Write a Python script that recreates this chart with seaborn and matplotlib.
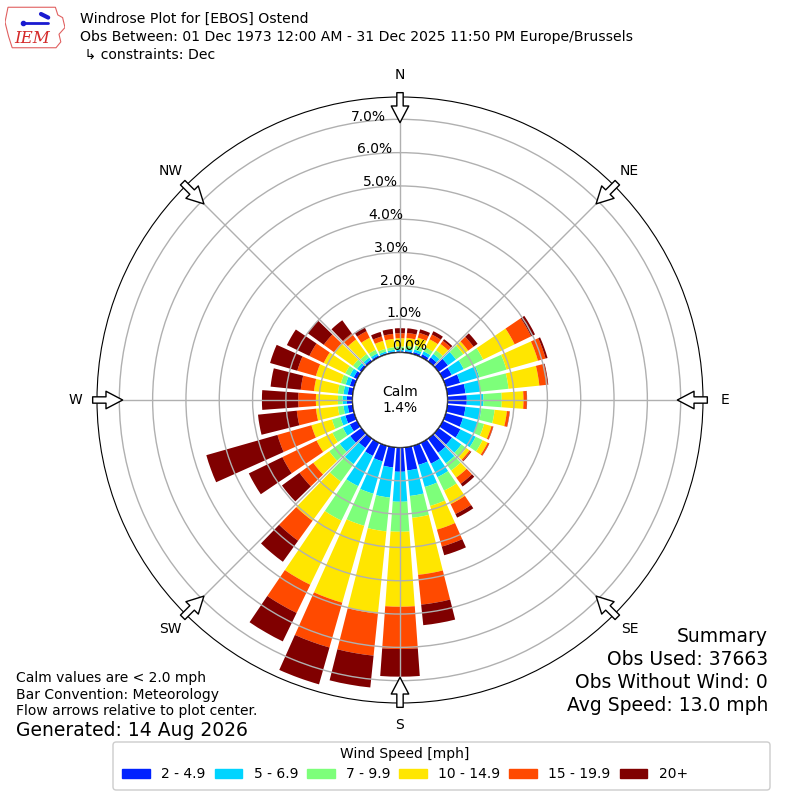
import numpy as np
import pandas as pd
import matplotlib
matplotlib.use('Agg')
import matplotlib.pyplot as plt
import seaborn as sns
from matplotlib.patches import Patch, Circle, FancyBboxPatch, Polygon

# --- DATA (percent of obs, per direction bin) ---
directions = np.arange(0, 360, 10)
speed_labels = ['2 - 4.9', '5 - 6.9', '7 - 9.9', '10 - 14.9', '15 - 19.9', '20+']
speed_2_5 = [0.04, 0.05, 0.07, 0.10, 0.15, 0.35, 0.30, 0.45, 0.55, 0.58, 0.55, 0.54,
             0.59, 0.50, 0.53, 0.70, 0.60, 0.70, 0.73, 0.61, 0.49, 0.44, 0.35, 0.42,
             0.25, 0.28, 0.15, 0.17, 0.15, 0.14, 0.12, 0.08, 0.07, 0.06, 0.04, 0.04]
speed_5_7 = [0.05, 0.06, 0.08, 0.10, 0.13, 0.30, 0.40, 0.60, 0.45, 0.50, 0.48, 0.46,
             0.51, 0.35, 0.39, 0.45, 0.69, 0.77, 0.90, 0.91, 1.01, 1.01, 0.60, 0.39,
             0.23, 0.16, 0.13, 0.13, 0.13, 0.13, 0.13, 0.09, 0.08, 0.07, 0.05, 0.05]
speed_7_10 = [0.09, 0.10, 0.12, 0.13, 0.14, 0.27, 0.65, 0.85, 0.85, 0.55, 0.40, 0.20,
              0.23, 0.18, 0.27, 0.45, 0.59, 0.66, 0.90, 1.02, 1.00, 1.15, 0.65, 0.39,
              0.35, 0.26, 0.17, 0.14, 0.17, 0.15, 0.15, 0.15, 0.13, 0.12, 0.08, 0.08]
speed_10_15 = [0.25, 0.24, 0.25, 0.27, 0.23, 0.18, 1.05, 0.98, 0.93, 0.65, 0.37, 0.23,
               0.17, 0.12, 0.26, 0.45, 0.74, 1.72, 2.25, 2.48, 2.40, 2.14, 1.45, 0.59,
               0.53, 0.64, 0.66, 0.66, 0.72, 0.78, 0.72, 0.70, 0.54, 0.40, 0.25, 0.25]
speed_15_20 = [0.15, 0.15, 0.15, 0.16, 0.12, 0.20, 0.55, 0.24, 0.25, 0.10, 0.08, 0.05,
               0.05, 0.05, 0.23, 0.33, 0.53, 0.90, 1.27, 1.27, 1.40, 0.94, 0.74, 0.51,
               1.14, 1.06, 0.58, 0.53, 0.40, 0.58, 0.48, 0.38, 0.22, 0.22, 0.14, 0.15]
speed_20 = [0.15, 0.14, 0.11, 0.11, 0.06, 0.15, 0.13, 0.06, 0.02, 0.01, 0.01, 0.01,
            0.01, 0.02, 0.10, 0.12, 0.27, 0.62, 0.83, 0.96, 1.15, 0.95, 0.78, 0.65,
            1.12, 2.22, 1.17, 1.09, 0.91, 0.85, 0.75, 0.60, 0.49, 0.14, 0.14, 0.15]
calm_pct = 1.4
ring_ticks = [0, 1, 2, 3, 4, 5, 6, 7]
compass = ['N', 'NE', 'E', 'SE', 'S', 'SW', 'W', 'NW']

df = pd.DataFrame(dict(zip(speed_labels, [speed_2_5, speed_5_7, speed_7_10,
                                           speed_10_15, speed_15_20, speed_20])),
                  index=directions)

sns.set_style('white')
plt.rcParams['font.family'] = ['DejaVu Sans']
for key in ['text.color', 'axes.labelcolor', 'xtick.color', 'ytick.color']:
    plt.rcParams[key] = 'black'
palette = sns.color_palette(['#0022ff', '#00d4ff', '#7dff7a', '#ffe600', '#ff4a00', '#800000'])

fig = plt.figure(figsize=(8, 8), dpi=100)
ax = fig.add_axes([0.12125, 0.12125, 0.7575, 0.7575], projection='polar')
ax.set_theta_zero_location('N')
ax.set_theta_direction(-1)

theta = np.deg2rad(df.index.values)
width = np.deg2rad(10) * 0.82
bottom = np.zeros(len(df))
for lab, col in zip(speed_labels, palette):
    ax.bar(theta, df[lab].values, width=width, bottom=bottom, color=col,
           edgecolor='none', zorder=2)
    bottom += df[lab].values

ax.set_rorigin(-1.425)
ax.set_ylim(0, 7.67)
ax.set_axisbelow(False)
ax.set_rgrids(ring_ticks, labels=[f'{v:.1f}%' for v in ring_ticks], angle=-10, fontsize=10)
ax.set_thetagrids(np.arange(0, 360, 45), labels=compass, fontsize=10)
ax.tick_params(axis='x', pad=5)
ax.grid(True, color='#b0b0b0', lw=1)
ax.spines['polar'].set_color('black')

# calm circle in the middle
ax.add_patch(Circle((0.5, 0.5), 0.0784, transform=ax.transAxes, fc='white',
                    ec='black', lw=1, zorder=5))
ax.text(0.5, 0.5, f'Calm\n{calm_pct:.1f}%', transform=ax.transAxes, ha='center',
        va='center', fontsize=10, zorder=6)

# flow arrows on the rim
for ang in np.arange(0, 360, 45):
    ax.annotate('', xy=(np.deg2rad(ang), 6.9), xytext=(np.deg2rad(ang), 7.8),
                arrowprops=dict(arrowstyle='simple,head_length=1.0,head_width=1.05,tail_width=0.38',
                                fc='white', ec='black', lw=1, shrinkA=0, shrinkB=0,
                                mutation_scale=12),
                annotation_clip=False, zorder=7)

# small IEM logo
logo = fig.add_axes([0.00625, 0.9375, 0.075, 0.05625])
logo.set_xlim(0, 1)
logo.set_ylim(0, 1)
logo.axis('off')
logo.add_patch(Polygon([(0.05, 0.95), (0.84, 0.95), (0.88, 0.78), (0.96, 0.72), (1.0, 0.5),
                        (0.9, 0.35), (0.93, 0.18), (0.85, 0.05), (0.12, 0.05), (0.06, 0.3),
                        (0.0, 0.62)], closed=True, fc='none', ec='#e06060', lw=0.8))
logo.plot([0.3, 0.72], [0.6, 0.6], color='#1a1ad0', lw=2)
logo.plot([0.3], [0.6], 'o', color='#1a1ad0', ms=3)
logo.plot([0.6, 0.72], [0.8, 0.72], color='#1a1ad0', lw=3)
logo.text(0.45, 0.25, 'IEM', color='#d42a2a', fontsize=12, fontstyle='italic',
          family='DejaVu Serif', ha='center', va='center')

# header
fig.text(0.1, 0.976, 'Windrose Plot for [EBOS] Ostend', fontsize=10.1, va='center')
fig.text(0.1, 0.954, 'Obs Between: 01 Dec 1973 12:00 AM - 31 Dec 2025 11:50 PM Europe/Brussels',
         fontsize=10.1, va='center')
fig.text(0.1, 0.932, ' \u21b3 constraints: Dec', fontsize=10.1, va='center')

# footer notes
fig.text(0.02, 0.1525, 'Calm values are < 2.0 mph', fontsize=10, va='center')
fig.text(0.02, 0.1315, 'Bar Convention: Meteorology', fontsize=10, va='center')
fig.text(0.02, 0.111, 'Flow arrows relative to plot center.', fontsize=10, va='center')
fig.text(0.02, 0.0865, 'Generated: 14 Aug 2026', fontsize=13.5, va='center')

summary = ['Summary', 'Obs Used: 37663', 'Obs Without Wind: 0', 'Avg Speed: 13.0 mph']
for i, s in enumerate(summary):
    fig.text(0.96, 0.205 - i * 0.0288, s, fontsize=13.5, ha='right', va='center')

# legend: frame drawn separately so it is wider than its entries, like the original
fig.patches.append(FancyBboxPatch((113 / 800, 10 / 800), 657 / 800, 48 / 800,
                                  boxstyle='round,pad=0,rounding_size=0.004',
                                  transform=fig.transFigure, fc='white', ec='0.8', lw=1))
handles = [Patch(color=c) for c in palette]
fig.legend(handles, speed_labels, loc='center', bbox_to_anchor=(405 / 800, 36 / 800), ncol=6,
           title='Wind Speed [mph]', fontsize=10, title_fontsize=10, handlelength=2,
           handleheight=0.7, handletextpad=0.8, columnspacing=0.65, frameon=False)

fig.savefig('out.png', dpi=100)
